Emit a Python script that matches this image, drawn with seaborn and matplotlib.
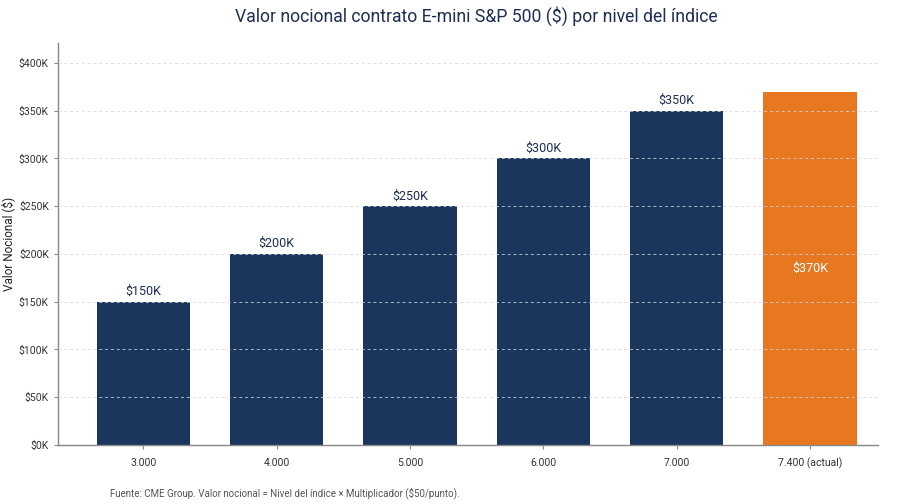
import matplotlib
matplotlib.use("Agg")
import matplotlib.pyplot as plt
import seaborn as sns
import pandas as pd
from matplotlib.ticker import FuncFormatter

categories = ["3.000", "4.000", "5.000", "6.000", "7.000", "7.400 (actual)"]
values = [150000, 200000, 250000, 300000, 350000, 370000]
labels = ["$150K", "$200K", "$250K", "$300K", "$350K", "$370K"]
kinds = ["hist", "hist", "hist", "hist", "hist", "actual"]

NAVY = "#1b365d"
ORANGE = "#e87722"
TEXT = "#1f2d55"

sns.set_theme(style="white")
plt.rcParams["font.family"] = ["Roboto", "DejaVu Sans"]

df = pd.DataFrame({"cat": categories, "val": values, "kind": kinds})

fig = plt.figure(figsize=(9, 5.04), dpi=100)
ax = fig.add_axes([0.0644, 0.117, 0.911, 0.798])

sns.barplot(data=df, x="cat", y="val", hue="kind",
            palette={"hist": NAVY, "actual": ORANGE},
            width=0.70, dodge=False, legend=False, ax=ax,
            edgecolor="none", saturation=1)

ax.set_ylim(0, 421000)
ax.set_xlim(-0.64, 5.51)
ax.set_yticks(range(0, 400001, 50000))
ax.yaxis.set_major_formatter(FuncFormatter(lambda v, p: f"${int(v/1000)}K"))
ax.grid(axis="y", color="#d5d8de", linestyle=(0, (3, 3)), linewidth=0.7, alpha=0.8)
ax.set_axisbelow(False)

for s in ["top", "right"]:
    ax.spines[s].set_visible(False)
for s in ["left", "bottom"]:
    ax.spines[s].set_color("#888888")
    ax.spines[s].set_linewidth(1.0)

ax.tick_params(axis="both", labelsize=7.5, colors="#333333", length=3, width=0.8, color="#888888")
ax.tick_params(axis="x", pad=6)
ax.tick_params(left=True, bottom=True)
ax.set_xlabel("")
ax.set_ylabel("Valor Nocional ($)", fontsize=8.5, color="#222222")
ax.yaxis.set_label_coords(-0.052, 0.5)

for i, (v, lab, k) in enumerate(zip(values, labels, kinds)):
    if k == "actual":
        ax.text(i, v / 2, lab, ha="center", va="center", color="white", fontsize=9)
    else:
        ax.text(i, v + 4000, lab, ha="center", va="bottom", color=TEXT, fontsize=9)

fig.text(0.529, 0.968, "Valor nocional contrato E-mini S&P 500 ($) por nivel del índice",
         ha="center", va="center", fontsize=12.7, color=TEXT)
fig.text(0.122, 0.022, "Fuente: CME Group. Valor nocional = Nivel del índice × Multiplicador ($50/punto).",
         ha="left", va="center", fontsize=7.0, color="#555555")

fig.savefig("out.png", dpi=100)
